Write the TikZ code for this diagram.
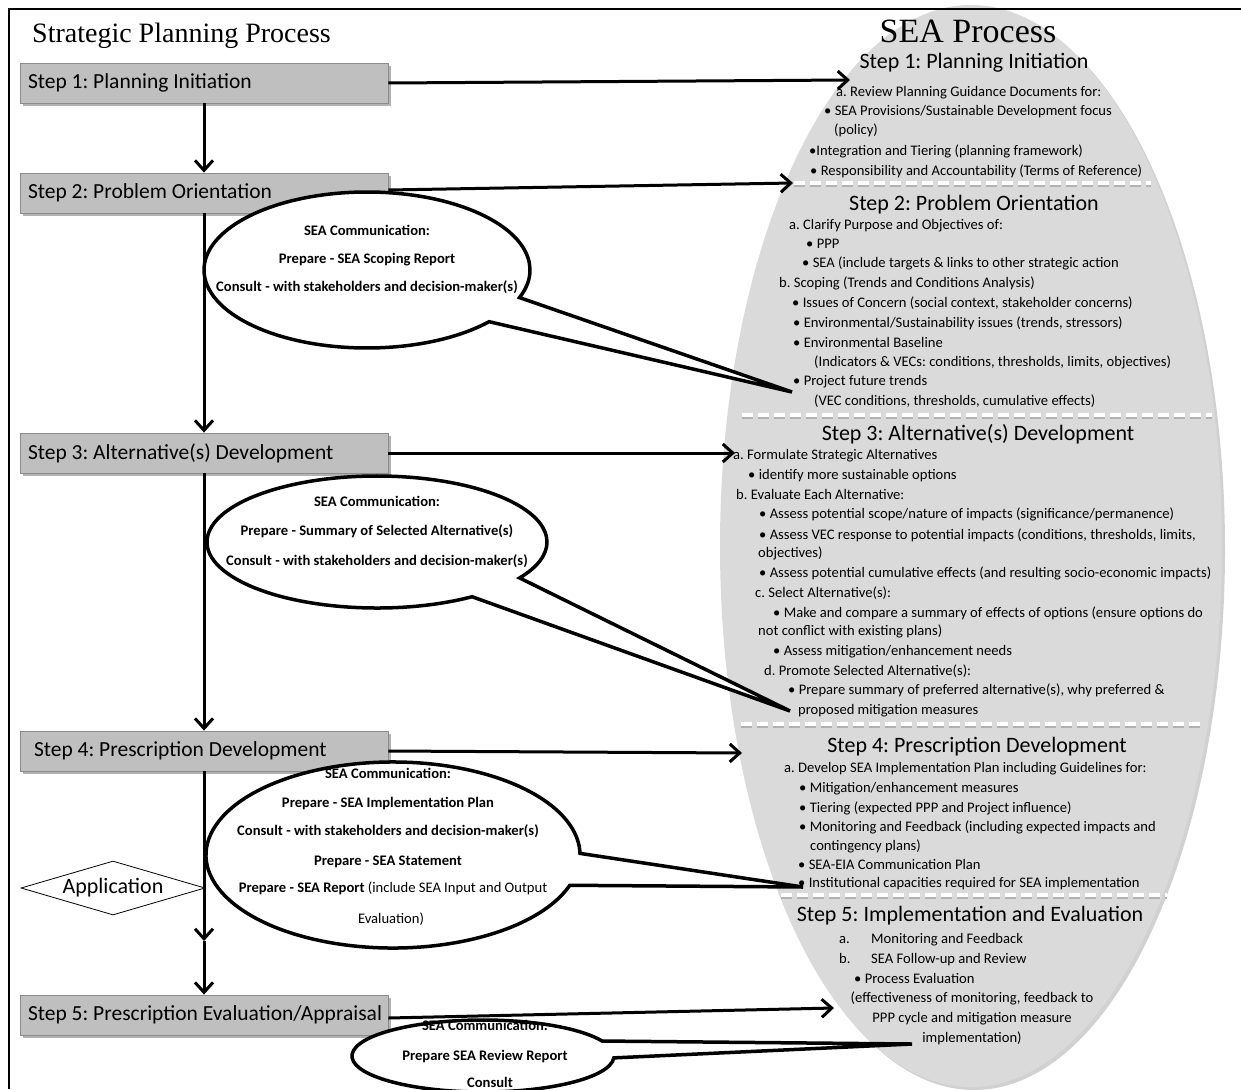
\documentclass[tikz,border=0pt]{standalone}
\usepackage{fontspec}
\setmainfont{Carlito}
\newfontfamily\titlefont{Liberation Serif}
\usetikzlibrary{arrows.meta,shadows,shapes.geometric}

\definecolor{boxgray}{gray}{0.75}
\definecolor{boxedge}{gray}{0.55}
\definecolor{seagray}{gray}{0.855}

\tikzset{
  frameline/.style={line width=2.5pt, black},
  stepbox/.style={draw=boxedge, line width=0.8pt, fill=boxgray,
    inner xsep=8pt, inner ysep=0pt, minimum height=40pt,
    font=\fontsize{21.5}{24}\selectfont,
    drop shadow={shadow xshift=2.5pt, shadow yshift=-3pt, fill=black, opacity=0.3}},
  conn/.style={line width=3pt, -{Straight Barb[length=10pt,width=18pt]}},
  seaoval/.style={ellipse, fill=seagray, inner sep=0pt,
    drop shadow={shadow xshift=3pt, shadow yshift=-3pt, fill=black, opacity=0.18}},
  sepline/.style={white, line width=3.5pt, dash pattern=on 11pt off 5pt},
  sepshade/.style={black!30, line width=2pt, dash pattern=on 11pt off 5pt},
  seahead/.style={anchor=base, inner sep=0pt, font=\fontsize{22}{24}\selectfont},
  seatxt/.style={anchor=base west, inner sep=0pt, font=\fontsize{14.6}{16}\selectfont},
  seactr/.style={anchor=base, inner sep=0pt, font=\fontsize{14.6}{16}\selectfont},
  calloutline/.style={draw=black, fill=white, line width=3.5pt, line join=miter},
  calltxt/.style={anchor=base, inner sep=0pt, font=\fontsize{14.6}{16}\selectfont\bfseries},
  titletxt/.style={inner sep=0pt, font=\fontsize{28}{32}\selectfont\titlefont},
  appdiamond/.style={diamond, draw=black, line width=0.8pt, fill=white, aspect=3.4,
    minimum width=184pt, minimum height=54pt, inner sep=0pt,
    font=\fontsize{22}{24}\selectfont}
}

\newcommand\sealine[4]{\node[seatxt] (#1) at (#2,#3) {#4};}
\newcommand\steplabel[1]{\makebox[352pt][l]{#1}}

\begin{document}
\frenchspacing
\begin{tikzpicture}[x=1pt,y=-1pt]
\useasboundingbox (0,0) rectangle (1241,1089);

% ---------- SEA process oval ----------
\node[seaoval, minimum width=502pt, minimum height=1082pt] (sea) at (971,546) {};

% section separators
\foreach \y/\xa/\xb in {183/794/1151, 415/742/1212, 724/741/1203, 895/781/1167}{
  \draw[sepshade] (\xa,\y+2.5) -- (\xb,\y+2.5);
  \draw[sepline] (\xa,\y) -- (\xb,\y);
}

\node[titletxt, anchor=base, font=\fontsize{34}{38}\selectfont\titlefont] (seatitle) at (968,43) {SEA Process};

% Step 1
\node[seahead] (h1) at (974,69) {Step 1: Planning Initiation};
\sealine{s1a}{836}{97}{a. Review Planning Guidance Documents for:}
\sealine{s1b}{824}{116}{• SEA Provisions/Sustainable Development focus}
\sealine{s1c}{834}{135}{(policy)}
\sealine{s1d}{809}{155}{•Integration and Tiering (planning framework)}
\sealine{s1e}{810}{175}{• Responsibility and Accountability (Terms of Reference)}

% Step 2
\node[seahead] (h2) at (974,210) {Step 2: Problem Orientation};
\sealine{s2a}{789}{229}{a. Clarify Purpose and Objectives of:}
\sealine{s2b}{806}{248}{• PPP}
\sealine{s2c}{802}{267}{• SEA (include targets \& links to other strategic action}
\sealine{s2d}{779}{287}{b. Scoping (Trends and Conditions Analysis)}
\sealine{s2e}{792}{307}{• Issues of Concern (social context, stakeholder concerns)}
\sealine{s2f}{793}{327}{• Environmental/Sustainability issues (trends, stressors)}
\sealine{s2g}{793}{347}{• Environmental Baseline}
\sealine{s2h}{814}{366}{(Indicators \& VECs: conditions, thresholds, limits, objectives)}
\sealine{s2i}{793}{385}{• Project future trends}
\sealine{s2j}{814}{405}{(VEC conditions, thresholds, cumulative effects)}

% Step 3
\node[seahead] (h3) at (978,440) {Step 3: Alternative(s) Development};
\sealine{s3a}{733}{459}{a. Formulate Strategic Alternatives}
\sealine{s3b}{748}{479}{• identify more sustainable options}
\sealine{s3c}{736}{499}{b. Evaluate Each Alternative:}
\sealine{s3d}{759}{518}{• Assess potential scope/nature of impacts (significance/permanence)}
\sealine{s3e}{759}{539}{• Assess VEC response to potential impacts (conditions, thresholds, limits,}
\sealine{s3f}{758}{557}{objectives)}
\sealine{s3g}{759}{577}{• Assess potential cumulative effects (and resulting socio-economic impacts)}
\sealine{s3h}{755}{597}{c. Select Alternative(s):}
\sealine{s3i}{773}{617}{• Make and compare a summary of effects of options (ensure options do}
\sealine{s3j}{758}{635}{not conflict with existing plans)}
\sealine{s3k}{773}{655}{• Assess mitigation/enhancement needs}
\sealine{s3l}{764}{675}{d. Promote Selected Alternative(s):}
\sealine{s3m}{788}{694}{• Prepare summary of preferred alternative(s), why preferred \&}
\sealine{s3n}{798}{714}{proposed mitigation measures}

% Step 4
\node[seahead] (h4) at (977,752) {Step 4: Prescription Development};
\sealine{s4a}{784}{772}{a. Develop SEA Implementation Plan including Guidelines for:}
\sealine{s4b}{799}{792}{• Mitigation/enhancement measures}
\sealine{s4c}{799}{812}{• Tiering (expected PPP and Project influence)}
\sealine{s4d}{799}{831}{• Monitoring and Feedback (including expected impacts and}
\sealine{s4e}{810}{850}{contingency plans)}
\sealine{s4f}{798}{869}{• SEA-EIA Communication Plan}
\sealine{s4g}{798}{887}{• Institutional capacities required for SEA implementation}

% Step 5
\node[seahead] (h5) at (970,921) {Step 5: Implementation and Evaluation};
\sealine{s5a}{839}{943}{a.}
\sealine{s5a2}{871}{943}{Monitoring and Feedback}
\sealine{s5b}{839}{963}{b.}
\sealine{s5b2}{871}{963}{SEA Follow-up and Review}
\sealine{s5c}{854}{983}{• Process Evaluation}
\node[seactr] (s5d) at (972,1002) {(effectiveness of monitoring, feedback to};
\node[seactr] (s5e) at (972,1022) {PPP cycle and mitigation measure};
\node[seactr] (s5f) at (972,1042) {implementation)};

% ---------- frame and left title ----------
\draw[frameline] (9,1089) -- (9,9) -- (1241,9);
\node[titletxt, anchor=base west] (sptitle) at (32,43) {Strategic Planning Process};

% ---------- planning steps ----------
\node[stepbox] (b1) at (204,83)  {\steplabel{Step 1: Planning Initiation}};
\node[stepbox] (b2) at (204,193) {\steplabel{Step 2: Problem Orientation}};
\node[stepbox] (b3) at (204,453) {\steplabel{Step 3: Alternative(s) Development}};
\node[stepbox] (b4) at (204,751) {\steplabel{\hspace*{6pt}Step 4: Prescription Development}};
\node[stepbox] (b5) at (204,1015) {\steplabel{Step 5: Prescription Evaluation/Appraisal}};

% arrow ends on the SEA side
\coordinate (a1) at (850,80);
\coordinate (a2) at (793,183);
\coordinate (a3) at (735,453);
\coordinate (a4) at (742,753);
\coordinate (a5) at (834,1008);
\coordinate (mid45) at (204,941);

\draw[conn] (b1.south) -- (b2.north);
\draw[conn] (b2.south) -- (b3.north);
\draw[conn] (b3.south) -- (b4.north);
\draw[conn] (b4.south) -- (mid45);
\draw[conn] (mid45) -- (b5.north);

\draw[conn] (b1.east) -- (a1);
\draw[conn] ([yshift=3pt]b2.east) -- (a2);
\draw[conn] (b3.east) -- (a3);
\draw[conn] (b4.east) -- (a4);
\draw[conn] ([yshift=-3pt]b5.east) -- (a5);

% ---------- communication callouts ----------
\coordinate (c1) at (367,270);  \coordinate (t1) at (792,392);
\coordinate (c2) at (377,542);  \coordinate (t2) at (790,711);
\coordinate (c3) at (393,855);  \coordinate (t3) at (803,887);
\coordinate (c4) at (483,1056); \coordinate (t4) at (912,1044);

\draw[calloutline] (c1) ++(41.5:163 and 78)
  arc[start angle=41.5, end angle=380.7, x radius=163, y radius=78] -- (t1) -- cycle;
\draw[calloutline] (c2) ++(56:170 and 66)
  arc[start angle=56, end angle=393, x radius=170, y radius=66] -- (t2) -- cycle;
\draw[calloutline] (c3) ++(19:187 and 93)
  arc[start angle=19, end angle=359, x radius=187, y radius=93] -- (t3) -- cycle;
\draw[calloutline] (c4) ++(3:131 and 36)
  arc[start angle=3, end angle=335.4, x radius=131, y radius=36] -- (t4) -- cycle;

\node[calltxt] (c1a) at (367,235) {SEA Communication:};
\node[calltxt] (c1b) at (367,263) {Prepare - SEA Scoping Report};
\node[calltxt] (c1c) at (367,291) {Consult - with stakeholders and decision-maker(s)};

\node[calltxt] (c2a) at (377,506) {SEA Communication:};
\node[calltxt] (c2b) at (377,535) {Prepare - Summary of Selected Alternative(s)};
\node[calltxt] (c2c) at (377,565) {Consult - with stakeholders and decision-maker(s)};

\node[calltxt] (c3a) at (388,778) {SEA Communication:};
\node[calltxt] (c3b) at (388,807) {Prepare - SEA Implementation Plan};
\node[calltxt] (c3c) at (388,835) {Consult - with stakeholders and decision-maker(s)};
\node[calltxt] (c3d) at (388,865) {Prepare - SEA Statement};
\node[calltxt] (c3e) at (393,892) {Prepare - SEA Report \mdseries(include SEA Input and Output};
\node[calltxt, font=\fontsize{14.6}{16}\selectfont] (c3f) at (391,923) {Evaluation)};

\node[calltxt] (c4a) at (485,1030) {SEA Communication:};
\node[calltxt] (c4b) at (485,1060) {Prepare SEA Review Report};
\node[calltxt] (c4c) at (490,1087) {Consult};

% ---------- application decision ----------
\node[appdiamond] (app) at (113,888) {Application};

\end{tikzpicture}
\end{document}
